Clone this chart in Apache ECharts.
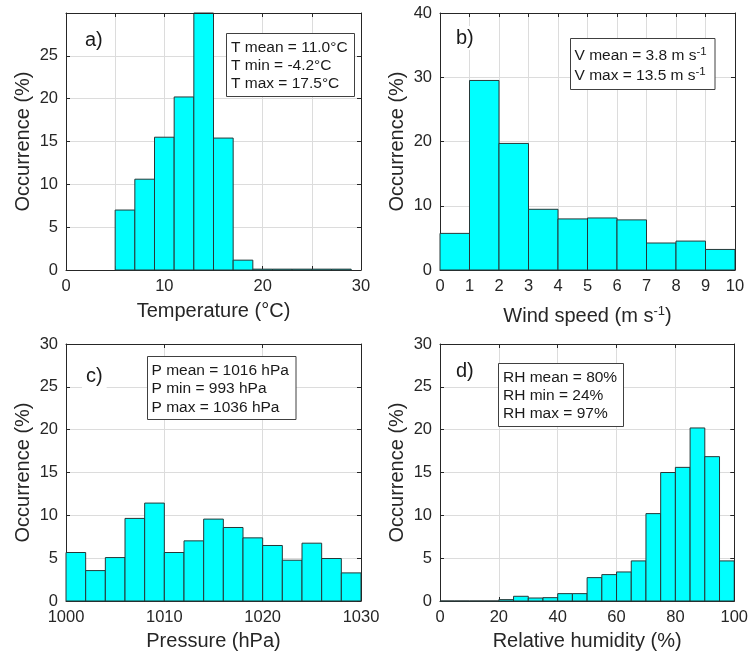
<!DOCTYPE html>
<html><head><meta charset="utf-8">
<script src="https://cdn.jsdelivr.net/npm/echarts@6/dist/echarts.min.js"></script>
<style>html,body{margin:0;padding:0;background:#fff}#c{width:751px;height:655px}</style>
</head><body><div id="c"></div>
<script>
// ---- data ----
const tempBinStarts = [5, 7, 9, 11, 13, 15, 17, 19, 21, 23, 25, 27];
const tempBinWidth = 2;
const tempValues = [7.0, 10.6, 15.5, 20.2, 30.0, 15.4, 1.15, 0.1, 0.1, 0.1, 0.1, 0.1];

const windBinStarts = [0, 1, 2, 3, 4, 5, 6, 7, 8, 9];
const windBinWidth = 1;
const windValues = [5.7, 29.5, 19.7, 9.45, 7.95, 8.1, 7.8, 4.2, 4.5, 3.2];

const presBinStarts = [1000, 1002, 1004, 1006, 1008, 1010, 1012, 1014, 1016, 1018, 1020, 1022, 1024, 1026, 1028];
const presBinWidth = 2;
const presValues = [5.66, 3.55, 5.07, 9.64, 11.43, 5.66, 7.02, 9.56, 8.58, 7.37, 6.48, 4.76, 6.75, 4.96, 3.28];

const rhBinStarts = [0, 5, 10, 15, 20, 25, 30, 35, 40, 45, 50, 55, 60, 65, 70, 75, 80, 85, 90, 95];
const rhBinWidth = 5;
const rhValues = [0, 0, 0, 0, 0.16, 0.55, 0.35, 0.39, 0.86, 0.86, 2.73, 3.08, 3.39, 4.68, 10.2, 15.0, 15.6, 20.2, 16.85, 4.68];

const tempStats = ['T mean = 11.0°C', 'T min = -4.2°C', 'T max = 17.5°C'];
const windStats = ['V mean = 3.8 m s{sup|-1}', 'V max = 13.5 m s{sup|-1}'];
const presStats = ['P mean = 1016 hPa', 'P min = 993 hPa', 'P max = 1036 hPa'];
const rhStats = ['RH mean = 80%', 'RH min = 24%', 'RH max = 97%'];
const panelLabels = ['a)', 'b)', 'c)', 'd)'];
const xNames = ['Temperature (°C)', 'Wind speed (m s{sup|-1})', 'Pressure (hPa)', 'Relative humidity (%)'];
const yName = 'Occurrence (%)';

// ---- styling ----
const FF = '"Liberation Sans", Arial, Helvetica, sans-serif';
const AX = '#262626';
const GRIDC = '#dcdcdc';

const grids = [
  {left: 66, top: 13, width: 295, height: 257},
  {left: 440, top: 13, width: 295, height: 257},
  {left: 66, top: 344, width: 295, height: 257},
  {left: 440, top: 344, width: 295, height: 257}
];

const panels = [
  {starts: tempBinStarts, w: tempBinWidth, vals: tempValues, xmin: 0, xmax: 30, xint: 5, xlab: v => (v % 10 === 0 ? String(v) : ''), ymax: 30, yint: 5, showMaxY: false, nameGap: 41},
  {starts: windBinStarts, w: windBinWidth, vals: windValues, xmin: 0, xmax: 10, xint: 1, xlab: v => String(v), ymax: 40, yint: 10, showMaxY: true, nameGap: 46},
  {starts: presBinStarts, w: presBinWidth, vals: presValues, xmin: 1000, xmax: 1030, xint: 10, xlab: v => String(v), ymax: 30, yint: 5, showMaxY: true, nameGap: 40.5},
  {starts: rhBinStarts, w: rhBinWidth, vals: rhValues, xmin: 0, xmax: 100, xint: 20, xlab: v => String(v), ymax: 30, yint: 5, showMaxY: true, nameGap: 40.5}
];

const xAxes = [], yAxes = [], series = [];
panels.forEach((p, i) => {
  xAxes.push({
    type: 'value', gridIndex: i, position: 'bottom', min: p.xmin, max: p.xmax, interval: p.xint,
    axisLine: {show: true, onZero: false, lineStyle: {color: AX, width: 1}},
    axisTick: {show: true, inside: true, length: 4, lineStyle: {color: AX}},
    axisLabel: {color: AX, fontSize: 16.5, fontFamily: FF, margin: 8, formatter: p.xlab},
    splitLine: {show: true, lineStyle: {color: GRIDC, width: 1}},
    name: xNames[i], nameLocation: 'middle', nameGap: p.nameGap,
    nameTextStyle: {color: AX, fontSize: 20, fontFamily: FF, verticalAlign: 'middle', lineHeight: 22,
      rich: {sup: {fontSize: 13, fontFamily: FF, color: AX, verticalAlign: 'top', lineHeight: 12}}}
  });
  xAxes.push({
    type: 'value', gridIndex: i, position: 'top', min: p.xmin, max: p.xmax, interval: p.xint, z: 5,
    axisLine: {show: true, onZero: false, lineStyle: {color: AX, width: 1}},
    axisTick: {show: true, inside: true, length: 4, lineStyle: {color: AX}},
    axisLabel: {show: false}, splitLine: {show: false}
  });
  yAxes.push({
    type: 'value', gridIndex: i, position: 'left', min: 0, max: p.ymax, interval: p.yint,
    axisLine: {show: true, onZero: false, lineStyle: {color: AX, width: 1}},
    axisTick: {show: true, inside: true, length: 4, lineStyle: {color: AX}},
    axisLabel: {color: AX, fontSize: 16.5, fontFamily: FF, margin: 8, showMaxLabel: p.showMaxY},
    splitLine: {show: true, lineStyle: {color: GRIDC, width: 1}},
    name: yName, nameLocation: 'middle', nameGap: 42.5,
    nameTextStyle: {color: AX, fontSize: 20, fontFamily: FF, verticalAlign: 'middle'}
  });
  yAxes.push({
    type: 'value', gridIndex: i, position: 'right', min: 0, max: p.ymax, interval: p.yint, z: 5,
    axisLine: {show: true, onZero: false, lineStyle: {color: AX, width: 1}},
    axisTick: {show: true, inside: true, length: 4, lineStyle: {color: AX}},
    axisLabel: {show: false}, splitLine: {show: false}
  });
  series.push({
    type: 'custom', xAxisIndex: 2 * i, yAxisIndex: 2 * i, z: 2,
    data: p.starts.map((s, k) => [s, s + p.w, p.vals[k]]),
    encode: {x: [0, 1], y: 2},
    renderItem: (params, api) => {
      const x0 = api.value(0), x1 = api.value(1), y = api.value(2);
      const a = api.coord([x0, y]);
      const b = api.coord([x1, 0]);
      const shape = echarts.graphic.clipRectByRect(
        {x: a[0], y: a[1], width: b[0] - a[0], height: b[1] - a[1]},
        {x: params.coordSys.x, y: params.coordSys.y - 1, width: params.coordSys.width, height: params.coordSys.height + 1});
      if (!shape) return null;
      return {type: 'rect', shape: shape, style: {fill: '#00ffff', stroke: '#263838', lineWidth: 1}};
    }
  });
});

// ---- annotations ----
function statBox(x, y, w, h, lines, tx, ty, lh) {
  return [
    {type: 'rect', z: 10, shape: {x: x, y: y, width: w, height: h}, style: {fill: '#fff', stroke: '#404040', lineWidth: 1}},
    {type: 'text', z: 11, x: tx, y: ty, style: {text: lines.join('\n'), font: '15.5px ' + FF, fill: '#1a1a1a', lineHeight: lh, verticalAlign: 'top', align: 'left',
      rich: {sup: {font: '11.5px ' + FF, fill: '#1a1a1a', verticalAlign: 'top', lineHeight: 11}}}}
  ];
}
function panelLabel(txt, x, y) {
  return {type: 'text', z: 9, x: x, y: y, style: {text: txt, font: '20px ' + FF, fill: '#1a1a1a', verticalAlign: 'middle', align: 'left', backgroundColor: '#fff', padding: [2, 4, 2, 4]}};
}

const graphic = [].concat(
  statBox(226.5, 33.5, 128, 63, tempStats, 231, 39, 18),
  statBox(570.5, 38.5, 144.5, 51, windStats, 574.5, 46, 20),
  statBox(147.5, 356.5, 148.5, 63, presStats, 151.5, 361, 18.5),
  statBox(498.5, 363.5, 125, 63, rhStats, 503, 368.5, 18),
  [panelLabel(panelLabels[0], 81, 40), panelLabel(panelLabels[1], 452, 38), panelLabel(panelLabels[2], 82, 376), panelLabel(panelLabels[3], 452, 371)]
);

const chart = echarts.init(document.getElementById('c'), null, {renderer: 'canvas'});
chart.setOption({
  animation: false,
  backgroundColor: '#fff',
  textStyle: {fontFamily: FF},
  grid: grids,
  xAxis: xAxes,
  yAxis: yAxes,
  series: series,
  graphic: graphic
});
</script>
</body></html>
